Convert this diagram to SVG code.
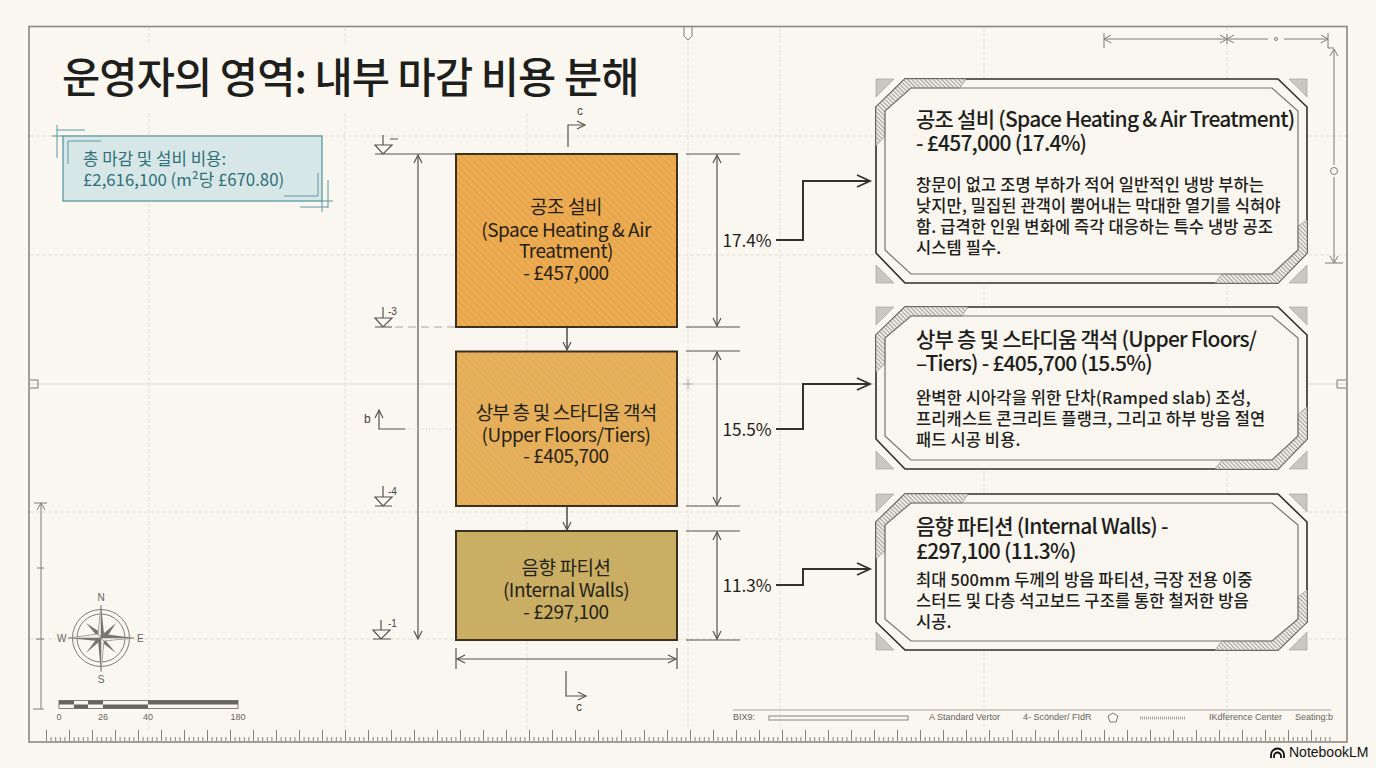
<svg xmlns="http://www.w3.org/2000/svg" width="1376" height="768" viewBox="0 0 1376 768">
<defs>
<style>
text{font-family:"Noto Sans CJK KR","Noto Sans",sans-serif;fill:#1e1e1c}
.g{fill:none;stroke:#e4e1d7;stroke-width:1;stroke-dasharray:4 2}
.d{fill:none;stroke:#55534c;stroke-width:1.2}
.c{fill:none;stroke:#33312b;stroke-width:2}
.t{fill:none;stroke:#7d7b72;stroke-width:1}
.box{stroke:#3c3120;stroke-width:2}
.node{font-size:19px;letter-spacing:-.45px;text-anchor:middle;fill:#241f16}
.h{font-size:21px;letter-spacing:-.75px;font-weight:500}
.b{font-size:16.500px;letter-spacing:.12px;font-weight:500}
.pct{font-size:17.200px;text-anchor:middle}
.s{font-size:9px;fill:#66645c;font-family:"Liberation Sans",sans-serif}
.m{font-size:12px;fill:#44433d;font-family:"Liberation Sans",sans-serif}
.outer{fill:#f8f6ee;stroke:#2f2e2a;stroke-width:1.6}
.inner{fill:none;stroke:#77756d;stroke-width:1.2}
.cor{fill:#c9c8c0;stroke:#9b9a92;stroke-width:.6}
.hat{fill:url(#hatch);stroke:#8a8880;stroke-width:.6}
.teal{fill:none;stroke:#5b98a2;stroke-width:1}
</style>
<pattern id="hatch" width="3" height="3" patternUnits="userSpaceOnUse" patternTransform="rotate(-45)"><rect width="3" height="3" fill="#f6f4ec"/><rect width="1.2" height="3" fill="#a3a199"/></pattern>
<pattern id="boxh" width="5" height="5" patternUnits="userSpaceOnUse" patternTransform="rotate(-45)"><rect width="2" height="5" fill="#c98a30" fill-opacity=".22"/></pattern>
<pattern id="rul" x="46" y="730" width="23" height="11" patternUnits="userSpaceOnUse"><path d="M.5 0V11M5.1 7V11M9.7 7V11M14.3 7V11M18.9 7V11" fill="none" stroke="#85837a" stroke-width="1"/></pattern>
<marker id="op" markerWidth="12" markerHeight="12" refX="9" refY="5" orient="auto-start-reverse" markerUnits="userSpaceOnUse"><path d="M1 1L9 5L1 9" fill="none" stroke="#55534c" stroke-width="1.2"/></marker>
<marker id="big" markerWidth="18" markerHeight="16" refX="15" refY="7" orient="auto" markerUnits="userSpaceOnUse"><path d="M2 1L15 7L2 13" fill="none" stroke="#33312b" stroke-width="1.8"/></marker>
</defs>
<rect width="1376" height="768" fill="#f9f7f0"/>
<g id="grid">
<path class="g" d="M149 27V43M149 113V730M345 27V43M345 113V730M527 113V730M688 40V730M780 27V730M984 27V730M1227 27V730"/>
<path class="g" d="M30 136H1346M30 255H1346M30 512H1346M30 639H1346"/>
<path d="M30 384H1346" fill="none" stroke="#e0ddd2" stroke-width="1.2"/>
<path d="M683 384H693M688 379V389" fill="none" stroke="#a9a79d" stroke-width="1"/>
</g>
<g id="frame">
<rect x="29" y="26.500" width="1318" height="715.500" fill="none" stroke="#8a887f" stroke-width="1.600"/>
<rect x="46" y="730" width="1285" height="11" fill="url(#rul)"/>
<path class="t" d="M684 27V36L688 40L692 36V27M30 380H38V388H30M1346 380H1337V388H1346"/>
</g>
<text id="title" x="62" y="93" font-size="41.500" font-weight="500" letter-spacing="-.85" fill="#111">운영자의 영역: 내부 마감 비용 분해</text>
<g id="total">
<rect x="63" y="136" width="259" height="65" fill="#d7e7e7" stroke="#5b98a2" stroke-width="1.300"/>
<path class="teal" d="M52 136H63M57 130H85M57 125V158M68 164V141H101M318 173V196H284M328 180V208M300 207H328M322 201H333M322 201V212"/>
<text x="83" y="165" font-size="16.800" style="fill:#2e6f78">총 마감 및 설비 비용:</text>
<text x="83" y="186" font-size="16.800" style="fill:#2e6f78">£2,616,100 (m²당 £670.80)</text>
</g>
<g id="levels">
<path class="d" d="M375 154H456M383 135V145M375 145H392L383 154ZM390 139H398"/>
<path class="d" d="M375 327H392M383 307V318M375 318H392L383 327Z"/>
<path class="g" d="M395 327H456" style="stroke:#aaa89e;stroke-dasharray:8 5"/>
<text class="m" x="388" y="315" style="font-size:10px">-3</text>
<path class="d" d="M375 506H392M383 486V497M375 497H392L383 506Z"/>
<text class="m" x="388" y="495" style="font-size:10px">-4</text>
<path class="d" d="M373 639H391M381 620V630M373 630H390L381 639Z"/>
<text class="m" x="388" y="627" style="font-size:10px">-1</text>
</g>
<g id="dimensions">
<path class="d" d="M418 155V639" marker-start="url(#op)" marker-end="url(#op)"/>
<path class="d" d="M686 154H740M686 327H740M686 351H740M686 506H740M686 531H740M686 640H740"/>
<path class="d" d="M717 155V326" marker-start="url(#op)" marker-end="url(#op)"/>
<path class="d" d="M717 352V505" marker-start="url(#op)" marker-end="url(#op)"/>
<path class="d" d="M717 532V639" marker-start="url(#op)" marker-end="url(#op)"/>
<path class="d" d="M457 659H676" marker-start="url(#op)" marker-end="url(#op)"/>
<path class="d" d="M456 648V669M677 648V669"/>
<path class="d" d="M568 147V125H585" marker-end="url(#op)"/>
<text class="m" x="577" y="115">c</text>
<path class="d" d="M566 671V696H586" marker-end="url(#op)"/>
<text class="m" x="576" y="711">c</text>
<path class="d" d="M405 429H379V410" marker-end="url(#op)"/>
<path d="M405 429H452" fill="none" stroke="#c8c6bc" stroke-dasharray="1 2"/>
<text class="m" x="364" y="423">b</text>
<path class="t" d="M1104 33V48M1105 39H1225M1229 39H1268M1284 39H1327M1227 34V44M1328 33V48H1334"/>
<path class="t" d="M1111 35L1104 39L1111 43M1220 35L1227 39L1220 43M1234 35L1227 39L1234 43M1321 35L1328 39L1321 43"/>
<circle class="t" cx="1276" cy="39" r="1.500"/>
<path class="t" d="M1334 49V165M1334 177V263M1330 56L1334 49L1338 56M1330 256L1334 263L1338 256M1325 263H1343"/>
<circle class="t" cx="1334" cy="171" r="3.500"/>
<path class="t" d="M41 503V709M34 503H47M37 510L41 503L45 510M37 568H44M36 639H44M33 709H44"/>
</g>
<g id="compass">
<circle class="t" cx="101" cy="638" r="28.500"/>
<circle class="t" cx="101" cy="638" r="24"/>
<path d="M86 623L103 634L116 623L105 640L116 653L100 641L86 653L98 637Z" fill="#77756d"/>
<path d="M101 605L104 634L134 638L104 641L101 672L98 641L68 638L98 634Z" fill="#77756d"/>
<path d="M101 605L98 634L101 638ZM134 638L104 641L101 638ZM101 672L104 641L101 638ZM68 638L98 634L101 638Z" fill="#f3f1e9" stroke="#77756d" stroke-width=".5" transform="rotate(0 101 638)"/>
<text class="s" x="101" y="601" text-anchor="middle" style="font-size:10px">N</text><text class="s" x="101" y="683" text-anchor="middle" style="font-size:10px">S</text>
<text class="s" x="57" y="642" style="font-size:10px">W</text><text class="s" x="137" y="642" style="font-size:10px">E</text>
</g>
<g id="scale">
<rect x="59" y="700.500" width="179" height="8" fill="#f8f6ee" stroke="#66645c" stroke-width=".8"/>
<path d="M59 700.500h15v4h-15zM88 700.500h15v4h-15zM148 700.500h90v4h-90zM74 704.500h14v4h-14zM103 704.500h45v4h-45z" fill="#66645c"/>
<text class="s" x="59" y="720" text-anchor="middle">0</text><text class="s" x="103" y="720" text-anchor="middle">26</text><text class="s" x="148" y="720" text-anchor="middle">40</text><text class="s" x="238" y="720" text-anchor="middle">180</text>
</g>
<g id="connectors">
<path class="c" d="M567 327V350" style="stroke-width:1.300" marker-end="url(#op)"/>
<path class="c" d="M567 506V530" style="stroke-width:1.300" marker-end="url(#op)"/>
<path class="c" d="M776 240H803V181H870" marker-end="url(#big)"/>
<path class="c" d="M776 429H803V384H870" marker-end="url(#big)"/>
<path class="c" d="M776 585H803V569H870" marker-end="url(#big)"/>
</g>
<g id="pcts">
<text class="pct" x="747" y="247">17.4%</text>
<text class="pct" x="747" y="436">15.5%</text>
<text class="pct" x="747" y="592">11.3%</text>
</g>
<g id="node-hvac">
<rect class="box" x="456" y="154" width="221" height="173" fill="#eeac52"/>
<rect x="457" y="155" width="219" height="171" fill="url(#boxh)"/>
<text class="node" x="566" y="214">공조 설비</text>
<text class="node" x="566" y="237">(Space Heating &amp; Air</text>
<text class="node" x="566" y="258">Treatment)</text>
<text class="node" x="566" y="280">- £457,000</text>
</g>
<g id="node-floors">
<rect class="box" x="456" y="351.500" width="221" height="154.500" fill="#e6b05c"/>
<rect x="457" y="352" width="219" height="153" fill="url(#boxh)" opacity=".5"/>
<text class="node" x="566" y="420" style="letter-spacing:-.8px">상부 층 및 스타디움 객석</text>
<text class="node" x="566" y="442">(Upper Floors/Tiers)</text>
<text class="node" x="566" y="463">- £405,700</text>
</g>
<g id="node-walls">
<rect class="box" x="456" y="531" width="221" height="109" fill="#c9ae63"/>
<text class="node" x="566" y="575">음향 파티션</text>
<text class="node" x="566" y="597">(Internal Walls)</text>
<text class="node" x="566" y="619">- £297,100</text>
</g>
<g id="panel-hvac">
<path class="outer" d="M905 79H1278L1307 107V253L1278 283H905L876 253V107Z"/>
<path class="hat" d="M876 107L905 79H966L960 88H911L885 111V136L876 146Z"/>
<path class="hat" d="M1307 253L1278 283H1215L1222 274H1272L1298 250V226L1307 220Z"/>
<path class="inner" d="M911 88H1272L1298 111V250L1272 274H911L885 250V111Z"/>
<path class="cor" d="M876 79H894L876 97ZM1289 79H1307V97ZM876 265L894 283H876ZM1307 265V283H1289Z"/>
<text class="h" x="916" y="127">공조 설비 (Space Heating &amp; Air Treatment)</text>
<text class="h" x="916" y="151">- £457,000 (17.4%)</text>
<text class="b" x="916" y="191">창문이 없고 조명 부하가 적어 일반적인 냉방 부하는</text>
<text class="b" x="916" y="212">낮지만, 밀집된 관객이 뿜어내는 막대한 열기를 식혀야</text>
<text class="b" x="916" y="233">함. 급격한 인원 변화에 즉각 대응하는 특수 냉방 공조</text>
<text class="b" x="916" y="254">시스템 필수.</text>
</g>
<g id="panel-floors">
<path class="outer" d="M905 307H1278L1307 335V439L1278 469H905L876 439V335Z"/>
<path class="hat" d="M876 335L905 307H968L962 316H911L885 338V364L876 372Z"/>
<path class="hat" d="M1307 439L1278 469H1215L1222 460H1272L1298 436V414L1307 407Z"/>
<path class="inner" d="M911 316H1272L1298 338V436L1272 460H911L885 436V338Z"/>
<path class="cor" d="M876 307H894L876 325ZM1289 307H1307V325ZM876 451L894 469H876ZM1307 451V469H1289Z"/>
<text class="h" x="916" y="347">상부 층 및 스타디움 객석 (Upper Floors/</text>
<text class="h" x="916" y="371">–Tiers) - £405,700 (15.5%)</text>
<text class="b" x="916" y="404">완벽한 시아각을 위한 단차(Ramped slab) 조성,</text>
<text class="b" x="916" y="425">프리캐스트 콘크리트 플랭크, 그리고 하부 방음 절연</text>
<text class="b" x="916" y="446">패드 시공 비용.</text>
</g>
<g id="panel-walls">
<path class="outer" d="M905 494H1278L1307 522V622L1278 650H905L876 622V522Z"/>
<path class="hat" d="M876 522L905 494H968L962 503H911L885 525V551L876 559Z"/>
<path class="hat" d="M1307 622L1278 650H1215L1222 641H1272L1298 619V597L1307 590Z"/>
<path class="inner" d="M911 503H1272L1298 525V619L1272 641H911L885 619V525Z"/>
<path class="cor" d="M876 494H894L876 512ZM1289 494H1307V512ZM876 632L894 650H876ZM1307 632V650H1289Z"/>
<text class="h" x="916" y="534">음향 파티션 (Internal Walls) -</text>
<text class="h" x="916" y="559">£297,100 (11.3%)</text>
<text class="b" x="916" y="586">최대 500mm 두께의 방음 파티션, 극장 전용 이중</text>
<text class="b" x="916" y="607">스터드 및 다층 석고보드 구조를 통한 철저한 방음</text>
<text class="b" x="916" y="628">시공.</text>
</g>
<g id="footer">
<path d="M733 710H1331" fill="none" stroke="#a5a399" stroke-width="1"/>
<text class="s" x="733" y="720">BIX9:</text>
<rect x="769" y="716" width="139" height="4" fill="none" stroke="#85837a"/>
<text class="s" x="929" y="720">A  Standard Vertor</text>
<text class="s" x="1023" y="720">4- Scönder/ FIdR</text>
<path class="t" d="M1113 713L1118 716L1116 722H1110L1108 716Z"/>
<path d="M1140 718H1185" fill="none" stroke="#a5a399" stroke-width="3" stroke-dasharray="1 1"/>
<text class="s" x="1209" y="720">IKdference Center</text>
<text class="s" x="1295" y="720">Seating:b</text>
</g>
<g id="logo">
<path d="M1271 758V755A6.500 6.500 0 0 1 1284 755V758M1274 758V756A3.500 3.500 0 0 1 1281 756V758" fill="none" stroke="#111" stroke-width="1.800"/>
<text x="1289" y="757" font-size="14" style="font-family:'Liberation Sans',sans-serif;fill:#111">NotebookLM</text>
</g>
</svg>
